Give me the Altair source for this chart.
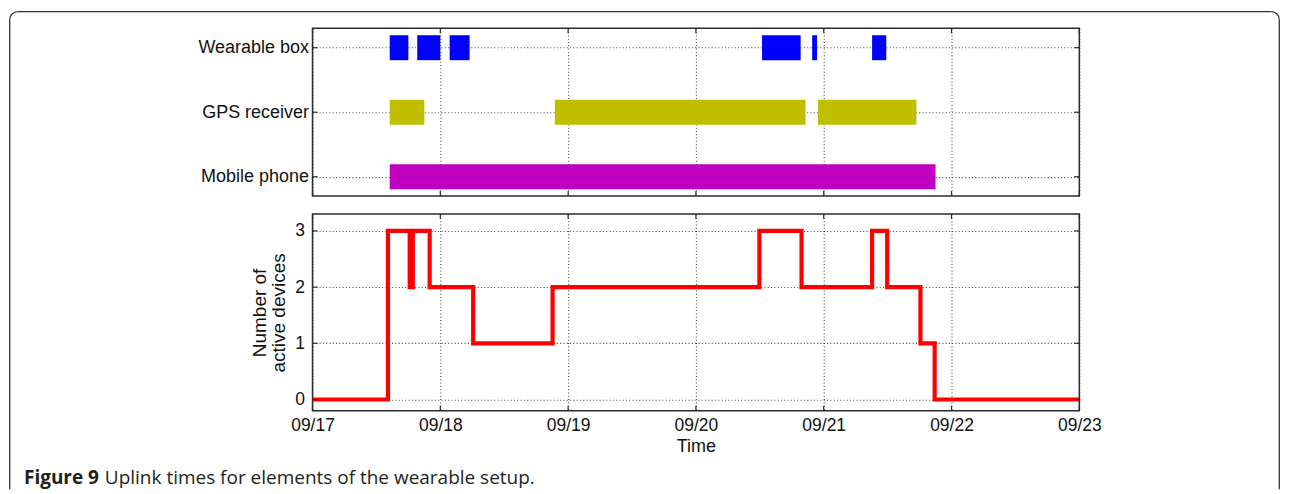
import altair as alt
import pandas as pd

YEAR = 2012

# ---- data -----------------------------------------------------------------
devices = ["Wearable box", "GPS receiver", "Mobile phone"]
device_rows = [3, 2, 1]
device_colors = ["#0000FF", "#BFBF00", "#BF00BF"]

wearable_start = ["09-17 14:30", "09-17 19:40", "09-18 01:45", "09-20 12:25", "09-20 21:50", "09-21 09:05"]
wearable_end = ["09-17 18:00", "09-18 00:00", "09-18 05:30", "09-20 19:40", "09-20 22:45", "09-21 11:45"]
gps_start = ["09-17 14:30", "09-18 21:30", "09-20 22:55"]
gps_end = ["09-17 21:00", "09-20 20:35", "09-21 17:25"]
phone_start = ["09-17 14:30"]
phone_end = ["09-21 21:00"]

count_times = ["09-17 00:00", "09-17 14:10", "09-17 18:15", "09-17 18:30", "09-17 18:40",
               "09-17 18:50", "09-17 22:00", "09-18 06:10", "09-18 21:05", "09-20 11:55",
               "09-20 19:50", "09-21 09:05", "09-21 11:55", "09-21 18:10", "09-21 20:50",
               "09-23 00:00"]
count_values = [0, 3, 2, 3, 2, 3, 2, 1, 2, 3, 2, 3, 2, 1, 0, 0]

tick_days = [17, 18, 19, 20, 21, 22, 23]
count_ticks = [0, 1, 2, 3]

caption_bold = "Figure 9"
caption_text = "Uplink times for elements of the wearable setup."
y_title = ["Number of", "active devices"]
x_title = "Time"


def ts(s):
    return f"{YEAR}-{s[:5]}T{s[6:]}:00"


rows = []
for dev, r, starts, ends in zip(devices, device_rows,
                                [wearable_start, gps_start, phone_start],
                                [wearable_end, gps_end, phone_end]):
    for s, e in zip(starts, ends):
        rows.append({"device": dev, "row": r, "start": ts(s), "end": ts(e)})
bars_df = pd.DataFrame(rows)
count_df = pd.DataFrame({"time": [ts(t) for t in count_times], "count": count_values})
xtick_df = pd.DataFrame({"start": [f"{YEAR}-09-{d:02d}T00:00:00" for d in tick_days]})
rowtick_df = pd.DataFrame({"row": device_rows})
cnttick_df = pd.DataFrame({"count": count_ticks})
one = alt.InlineData(values=[{"k": 0}])

# ---- layout constants ------------------------------------------------------
W = 768
H_TOP = 168
H_BOT = 197
TICK = 5
FONT = "Liberation Sans"
EDGE = "#2b2b2b"

tick_vals = [alt.DateTime(year=YEAR, month=9, date=d, hours=0) for d in tick_days]
x_scale = alt.Scale(type="time", domain=[tick_vals[0], tick_vals[-1]], nice=False, padding=0)
label_map = " : ".join(f"datum.value == {r} ? '{d}'" for r, d in zip(device_rows, devices)) + " : ''"

ax_top_x = alt.Axis(values=tick_vals, labels=False, ticks=False, domain=False, title=None, grid=True)
ax_top_y = alt.Axis(values=device_rows, labelExpr=label_map, title=None, grid=True,
                    ticks=False, domain=False, labelPadding=4, labelFontSize=18)
ax_bot_x = alt.Axis(values=tick_vals, format="%m/%d", title=x_title, grid=True,
                    ticks=False, domain=False, labelPadding=6, titlePadding=3,
                    labelFontSize=17.5, titleFontSize=18, labelFlush=False,
                    labelOverlap=False)
ax_bot_y = alt.Axis(values=count_ticks, title=y_title, grid=True, ticks=False,
                    domain=False, labelPadding=8, titlePadding=6, titleLineHeight=19,
                    labelFontSize=17.5, titleFontSize=19, labelFlush=False)
top_y_scale = alt.Scale(domain=[0.7, 3.3], nice=False, zero=False, padding=0)
bot_y_scale = alt.Scale(domain=[-0.2, 3.3], nice=False, zero=False, padding=0)

# ---- top panel -------------------------------------------------------------
bars = alt.Chart(bars_df).mark_bar(size=25, orient="horizontal").encode(
    x=alt.X("start:T", scale=x_scale, axis=ax_top_x),
    x2="end:T",
    y=alt.Y("row:Q", scale=top_y_scale, axis=ax_top_y),
    color=alt.Color("device:N", scale=alt.Scale(domain=devices, range=device_colors), legend=None),
)


def xticks(df, field, h, ax):
    return [
        alt.Chart(df).mark_rule(color=EDGE, strokeWidth=1.2).encode(
            x=alt.X(f"{field}:T", scale=x_scale, axis=ax), y=alt.value(0), y2=alt.value(TICK)),
        alt.Chart(df).mark_rule(color=EDGE, strokeWidth=1.2).encode(
            x=alt.X(f"{field}:T", scale=x_scale, axis=ax), y=alt.value(h), y2=alt.value(h - TICK)),
    ]


def yticks(df, field, sc, ax):
    return [
        alt.Chart(df).mark_rule(color=EDGE, strokeWidth=1.2).encode(
            y=alt.Y(f"{field}:Q", scale=sc, axis=ax), x=alt.value(0), x2=alt.value(TICK)),
        alt.Chart(df).mark_rule(color=EDGE, strokeWidth=1.2).encode(
            y=alt.Y(f"{field}:Q", scale=sc, axis=ax), x=alt.value(W), x2=alt.value(W - TICK)),
    ]


# figure frame (decoration), coordinates relative to the top panel's plot origin
FL, FT, FR, FB, RAD = -303.3, -16.7, 968.3, 461.7, 8
frame_col = "#333333"
frame = [
    alt.Chart(one).mark_rule(color=frame_col, strokeWidth=1.3).encode(
        x=alt.value(FL + RAD), x2=alt.value(FR - RAD), y=alt.value(FT)),
    alt.Chart(one).mark_rule(color=frame_col, strokeWidth=1.3).encode(
        x=alt.value(FL), y=alt.value(FT + RAD), y2=alt.value(FB)),
    alt.Chart(one).mark_rule(color=frame_col, strokeWidth=1.3).encode(
        x=alt.value(FR), y=alt.value(FT + RAD), y2=alt.value(FB)),
    alt.Chart(one).mark_arc(theta=4.7124, theta2=6.2832, radius=RAD + 0.65, radius2=RAD - 0.65,
                            color=frame_col).encode(x=alt.value(FL + RAD), y=alt.value(FT + RAD)),
    alt.Chart(one).mark_arc(theta=0, theta2=1.5708, radius=RAD + 0.65, radius2=RAD - 0.65,
                            color=frame_col).encode(x=alt.value(FR - RAD), y=alt.value(FT + RAD)),
]

top = alt.layer(bars, *xticks(xtick_df, "start", H_TOP, ax_top_x),
                *yticks(rowtick_df, "row", top_y_scale, ax_top_y), *frame).properties(
    width=W, height=H_TOP)

# ---- bottom panel ----------------------------------------------------------
xtick_df2 = xtick_df.rename(columns={"start": "time"})
line = alt.Chart(count_df).mark_line(interpolate="step-after", color="#FF0000",
                                     strokeWidth=4.2, clip=True).encode(
    x=alt.X("time:T", scale=x_scale, axis=ax_bot_x),
    y=alt.Y("count:Q", scale=bot_y_scale, axis=ax_bot_y),
)

cap_font = "Open Sans"
caption = [
    alt.Chart(one).mark_text(text=caption_bold, font=cap_font, fontWeight="bold", fontSize=19,
                             align="left", baseline="alphabetic", color="#231f20").encode(
        x=alt.value(-289), y=alt.value(270)),
    alt.Chart(one).mark_text(text=caption_text, font=cap_font, fontSize=19,
                             align="left", baseline="alphabetic", color="#231f20").encode(
        x=alt.value(-208), y=alt.value(270)),
]

bottom = alt.layer(line, *xticks(xtick_df2, "time", H_BOT, ax_bot_x),
                   *yticks(cnttick_df, "count", bot_y_scale, ax_bot_y), *caption).properties(
    width=W, height=H_BOT)

chart = alt.vconcat(top, bottom, spacing=18, bounds="flush").properties(
    padding={"left": 0, "top": 1, "right": 0, "bottom": 0}
).configure_view(
    stroke=EDGE, strokeWidth=1.5
).configure_axis(
    labelFont=FONT, labelFontSize=16, labelColor="#111111",
    titleFont=FONT, titleFontSize=16, titleFontWeight="normal", titleColor="#111111",
    gridColor="#333333", gridDash=[1, 2.3], gridWidth=1.1, gridOpacity=0.9,
)

chart.save("out.html", embed_options={"renderer": "svg", "actions": False})
